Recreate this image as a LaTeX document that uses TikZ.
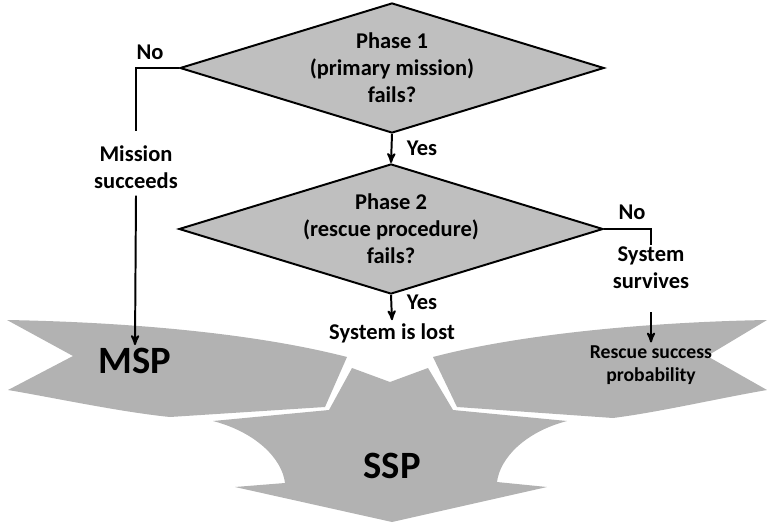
\documentclass[tikz,border=0pt]{standalone}
\usepackage{fontspec}
\setmainfont{Carlito}
\usetikzlibrary{shapes.geometric, arrows, positioning}

\tikzset{
  decision/.style={diamond, draw, fill=gray!50, line width=1.4pt, inner sep=0pt,
    aspect=3.3, minimum width=10.6cm, minimum height=3.25cm, align=center,
    font=\bfseries\fontsize{16}{19.2}\selectfont},
  txt/.style={align=center, inner sep=2pt, font=\bfseries\fontsize{16}{19.2}\selectfont},
  small/.style={align=center, inner sep=2pt, font=\bfseries\fontsize{14}{16.4}\selectfont},
  big/.style={inner sep=2pt, font=\bfseries\fontsize{27.5}{30}\selectfont},
  band/.style={fill=gray!60, draw=none},
  flow/.style={line width=1.4pt},
}

\begin{document}
\begin{tikzpicture}[x=0.025cm, y=-0.025cm, >=stealth']
  \useasboundingbox (0,0) rectangle (767,525);

  % the three merging arrows
  \fill[band] (7,320) .. controls (120,322) and (250,332) .. (347,357)
    -- (325,407) -- (170,417) .. controls (120,412) and (50,397) .. (8,390)
    -- (73,356) -- cycle;
  \fill[band] (767,320) .. controls (650,322) and (520,334) .. (433,357)
    -- (457,407) -- (613,418) .. controls (660,412) and (720,398) .. (767,390)
    -- (707,356) -- cycle;
  \fill[band] (352,368) -- (390,382) -- (428,368) -- (453,410) -- (567,421)
    .. controls (525,432) and (500,458) .. (497,482) -- (547,487) -- (392,522)
    -- (235,487) -- (285,483) .. controls (282,458) and (255,432) .. (213,421)
    -- (329,410) -- cycle;

  % decisions
  \node[decision] (p1) at (392,68) {Phase 1\\(primary mission)\\fails?};
  \node[decision] (p2) at (391,229) {Phase 2\\(rescue procedure)\\fails?};

  % outcomes
  \node[txt] (ms) at (136,167) {Mission\\succeeds};
  \node[txt] (lost) at (392,333) {System is lost};
  \node[txt] (surv) at (651,268) {System\\survives};
  \node[small] (rsp) at (651,365) {Rescue success\\probability};
  \node[big] (msp) at (135,361) {MSP};
  \node[big] (ssp) at (392,466) {SSP};

  % branch labels
  \node[txt] (no1) at (150,52) {No};
  \node[txt] (no2) at (632,212) {No};
  \node[txt] (yes1) at (422,148) {Yes};
  \node[txt] (yes2) at (422,302) {Yes};

  % connectors
  \coordinate (svtop) at (651,245);
  \draw[flow, shorten >=8pt] (p1.west) -| (ms.north);
  \draw[flow, ->] (ms.south) ++(0,4) -- (msp.north);
  \draw[flow, ->] (p1.south) -- (p2.north);
  \draw[flow, ->] (p2.south) -- (lost.north);
  \draw[flow] (p2.east) -| (svtop);
  \draw[flow, ->] (surv.south) ++(0,20) -- (rsp.north);
\end{tikzpicture}
\end{document}
